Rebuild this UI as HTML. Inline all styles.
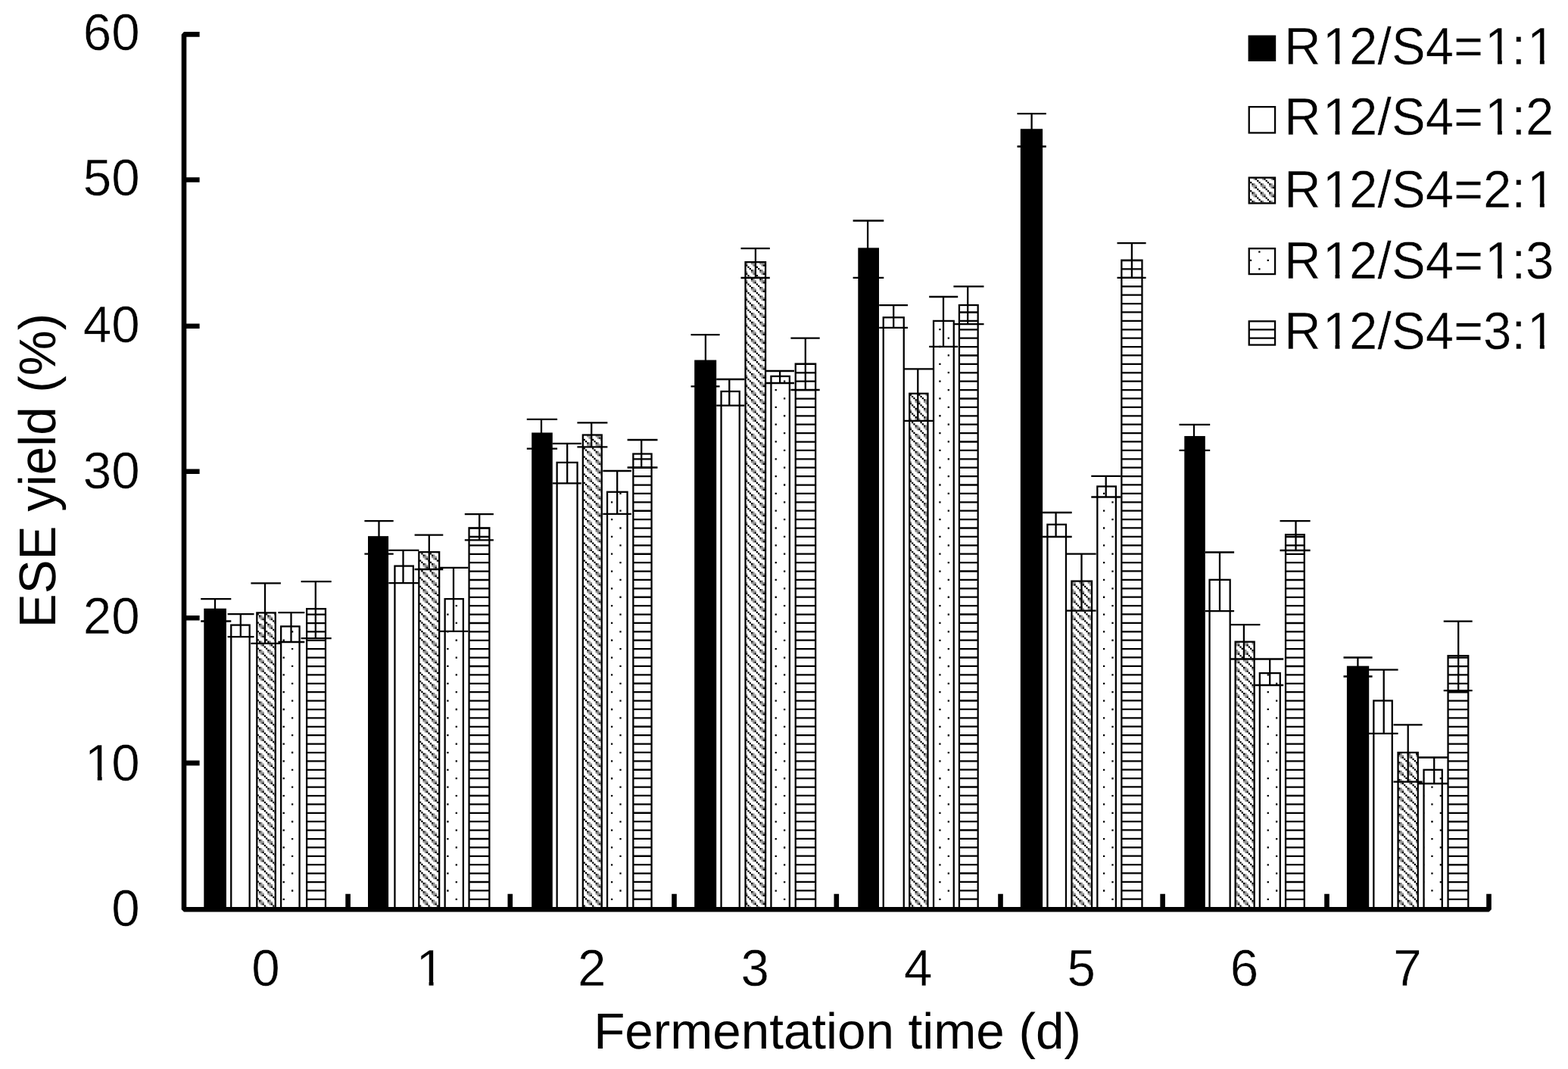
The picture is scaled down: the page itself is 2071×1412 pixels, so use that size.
<!DOCTYPE html>
<html lang="en"><head><meta charset="utf-8"><title>ESE yield vs fermentation time</title>
<style>
html,body{margin:0;padding:0;background:#fff;}
body{width:2071px;height:1412px;overflow:hidden;}
svg{display:block;}
text{font-family:"Liberation Sans",sans-serif;font-size:67px;fill:#000;font-kerning:none;text-rendering:geometricPrecision;}
text.t{stroke:#fff;stroke-width:0.5px;stroke-linejoin:round;}
</style></head><body>
<svg width="2071" height="1412" viewBox="0 0 2071 1412">
<defs>
<clipPath id="c2">
<rect x="339.34" y="809.4" width="24.42" height="391.6"/>
<rect x="553.34" y="729.2" width="26.82" height="471.8"/>
<rect x="769.84" y="574.5" width="24.92" height="626.5"/>
<rect x="984.54" y="346.2" width="26.52" height="854.8"/>
<rect x="1201.24" y="519.8" width="24.22" height="681.2"/>
<rect x="1415.44" y="767.6" width="26.62" height="433.4"/>
<rect x="1631.64" y="847.7" width="25.02" height="353.3"/>
<rect x="1846.54" y="994" width="26.22" height="207"/>
<rect x="1649.74" y="234.64" width="34.32" height="33.82"/>
</clipPath>
<clipPath id="c3">
<rect x="371.14" y="827.4" width="24.42" height="373.6"/>
<rect x="587.64" y="791.1" width="24.22" height="409.9"/>
<rect x="802.04" y="649.8" width="26.52" height="551.2"/>
<rect x="1018.44" y="497" width="24.42" height="704"/>
<rect x="1233.04" y="423.9" width="26.72" height="777.1"/>
<rect x="1449.34" y="642.5" width="24.52" height="558.5"/>
<rect x="1663.84" y="889.1" width="26.92" height="311.9"/>
<rect x="1880.54" y="1016.8" width="24.22" height="184.2"/>
<rect x="1649.74" y="328.24" width="34.32" height="33.82"/>
</clipPath>
<clipPath id="c4">
<rect x="405.14" y="804.2" width="24.82" height="396.8"/>
<rect x="619.54" y="697.3" width="26.82" height="503.7"/>
<rect x="836.34" y="599.5" width="24.22" height="601.5"/>
<rect x="1050.74" y="480.6" width="26.42" height="720.4"/>
<rect x="1266.94" y="403" width="24.72" height="798"/>
<rect x="1481.34" y="343.7" width="27.12" height="857.3"/>
<rect x="1698.04" y="706.2" width="24.72" height="494.8"/>
<rect x="1912.54" y="866.2" width="26.72" height="334.8"/>
<rect x="1649.74" y="424.34" width="34.32" height="31.22"/>
</clipPath>
</defs>
<rect width="2071" height="1412" fill="#fff"/>
<g stroke="#000" stroke-width="2.28">
<rect x="270.44" y="804.9" width="27.32" height="396.1" fill="#000"/>
<rect x="487.14" y="709.3" width="24.82" height="491.7" fill="#000"/>
<rect x="703.34" y="572.6" width="25.32" height="628.4" fill="#000"/>
<rect x="918.34" y="476.7" width="26.72" height="724.3" fill="#000"/>
<rect x="1134.44" y="328.5" width="25.42" height="872.5" fill="#000"/>
<rect x="1348.94" y="171.4" width="27.02" height="1029.6" fill="#000"/>
<rect x="1565.44" y="577.1" width="25.22" height="623.9" fill="#000"/>
<rect x="1780.04" y="880.8" width="27.02" height="320.2" fill="#000"/>
<rect x="1649.74" y="47.74" width="34.32" height="32.12" fill="#000"/>
<rect x="305.24" y="825.6" width="24.42" height="375.4" fill="#fff"/>
<rect x="521.44" y="747.6" width="24.42" height="453.4" fill="#fff"/>
<rect x="735.64" y="610.9" width="26.92" height="590.1" fill="#fff"/>
<rect x="952.54" y="517" width="24.22" height="684" fill="#fff"/>
<rect x="1166.74" y="419.3" width="27.02" height="781.7" fill="#fff"/>
<rect x="1383.44" y="692.8" width="24.52" height="508.2" fill="#fff"/>
<rect x="1597.54" y="765.8" width="27.12" height="435.2" fill="#fff"/>
<rect x="1814.34" y="925.5" width="24.42" height="275.5" fill="#fff"/>
<rect x="1649.74" y="141.14" width="34.32" height="34.32" fill="#fff"/>
</g>
<g clip-path="url(#c2)" fill="none">
<path d="M345.29 789.62V1202M356.7 789.62V1202M561.97 709.79V1202M573.37 709.79V1202M778.64 561.54V1202M790.05 561.54V1202M983.92 333.46V1202M995.32 333.46V1202M1006.72 333.46V1202M1200.59 504.52V1202M1212 504.52V1202M1223.4 504.52V1202M1417.27 755.41V1202M1428.67 755.41V1202M1440.08 755.41V1202M1633.94 835.24V1202M1645.35 835.24V1202M1656.75 835.24V1202M1850.62 972.09V1202M1862.02 972.09V1202M1873.43 972.09V1202M1656.75 219.42V269.46M1668.16 219.42V269.46M1679.56 219.42V269.46" stroke="#8a8a8a" stroke-width="2.28" stroke-dasharray="6.84 4.56"/>
<path d="M343.01 791.9V1202M354.41 791.9V1202M365.82 791.9V1202M559.69 712.07V1202M571.09 712.07V1202M776.36 552.42V1202M787.77 552.42V1202M993.04 324.34V1202M1004.44 324.34V1202M1209.71 506.8V1202M1221.12 506.8V1202M1414.99 746.29V1202M1426.39 746.29V1202M1437.79 746.29V1202M1631.66 826.11V1202M1643.07 826.11V1202M1654.47 826.11V1202M1848.34 974.37V1202M1859.74 974.37V1202M1871.15 974.37V1202M1654.47 221.7V269.46M1665.87 221.7V269.46M1677.28 221.7V269.46M347.57 791.9V1202M358.98 791.9V1202M552.84 712.07V1202M564.25 712.07V1202M575.65 712.07V1202M769.52 552.42V1202M780.92 552.42V1202M792.33 552.42V1202M986.2 324.34V1202M997.6 324.34V1202M1009 324.34V1202M1202.87 506.8V1202M1214.28 506.8V1202M1225.68 506.8V1202M1419.55 746.29V1202M1430.95 746.29V1202M1442.36 746.29V1202M1636.22 826.11V1202M1647.63 826.11V1202M1852.9 974.37V1202M1864.3 974.37V1202M1647.63 221.7V269.46M1659.03 221.7V269.46M1670.44 221.7V269.46M1681.84 221.7V269.46" stroke="#8a8a8a" stroke-width="2.28" stroke-dasharray="2.28 9.12"/>
<path d="M347.57 794.18V1202M358.98 794.18V1202M552.84 714.36V1202M564.25 714.36V1202M575.65 714.36V1202M769.52 554.7V1202M780.92 554.7V1202M792.33 554.7V1202M986.2 326.62V1202M997.6 326.62V1202M1009 326.62V1202M1202.87 497.68V1202M1214.28 497.68V1202M1225.68 497.68V1202M1419.55 748.57V1202M1430.95 748.57V1202M1442.36 748.57V1202M1636.22 828.4V1202M1647.63 828.4V1202M1852.9 976.65V1202M1864.3 976.65V1202M1647.63 212.58V269.46M1659.03 212.58V269.46M1670.44 212.58V269.46M1681.84 212.58V269.46M338.45 796.46V1202M349.85 796.46V1202M361.26 796.46V1202M555.12 716.64V1202M566.53 716.64V1202M577.93 716.64V1202M771.8 556.98V1202M783.2 556.98V1202M794.61 556.98V1202M988.48 328.9V1202M999.88 328.9V1202M1011.28 328.9V1202M1205.15 499.96V1202M1216.56 499.96V1202M1421.83 750.85V1202M1433.23 750.85V1202M1638.5 830.68V1202M1649.91 830.68V1202M1855.18 978.93V1202M1866.58 978.93V1202M1649.91 214.86V269.46M1661.31 214.86V269.46M1672.72 214.86V269.46M1684.12 214.86V269.46M340.73 787.34V1202M352.13 787.34V1202M363.54 787.34V1202M557.41 707.51V1202M568.81 707.51V1202M580.21 707.51V1202M774.08 559.26V1202M785.49 559.26V1202M796.89 559.26V1202M990.76 331.18V1202M1002.16 331.18V1202M1207.43 502.24V1202M1218.84 502.24V1202M1424.11 753.13V1202M1435.51 753.13V1202M1629.38 832.96V1202M1640.79 832.96V1202M1652.19 832.96V1202M1846.06 981.21V1202M1857.46 981.21V1202M1868.87 981.21V1202M1652.19 217.14V269.46M1663.59 217.14V269.46M1675 217.14V269.46M343.01 789.62V1202M354.41 789.62V1202M365.82 789.62V1202M559.69 709.79V1202M571.09 709.79V1202M776.36 561.54V1202M787.77 561.54V1202M993.04 333.46V1202M1004.44 333.46V1202M1209.71 504.52V1202M1221.12 504.52V1202M1414.99 755.41V1202M1426.39 755.41V1202M1437.79 755.41V1202M1631.66 835.24V1202M1643.07 835.24V1202M1654.47 835.24V1202M1848.34 972.09V1202M1859.74 972.09V1202M1871.15 972.09V1202M1654.47 219.42V269.46M1665.87 219.42V269.46M1677.28 219.42V269.46" stroke="#000" stroke-width="2.28" stroke-dasharray="2.28 9.12"/>
</g>
<g clip-path="url(#c3)" fill="none">
<path d="M386.12 787.58V1202M591.4 764.78V1202M819.48 605.12V1202M1024.75 468.27V1202M1252.83 399.85V1202M1458.1 605.12V1202M1663.37 856.01V1202M1686.18 856.01V1202M1891.45 992.86V1202M1663.37 285.81V363.06M1686.18 285.81V363.06M374.72 798.99V1202M397.53 798.99V1202M602.8 753.37V1202M808.07 616.52V1202M1036.15 456.87V1202M1241.42 388.44V1202M1469.5 616.52V1202M1674.78 844.6V1202M1880.05 981.45V1202M1902.86 981.45V1202M1651.97 297.21V363.06M1674.78 297.21V363.06" stroke="#000" stroke-width="2.28" stroke-dasharray="2.28 20.53"/>
</g>
<g clip-path="url(#c4)" fill="none" stroke="#000">
<path d="M417.55 787.69V1202" stroke-width="24.82" stroke-dasharray="2.28 9.12"/>
<path d="M632.95 685.05V1202" stroke-width="26.82" stroke-dasharray="2.28 9.12"/>
<path d="M848.45 582.42V1202" stroke-width="24.22" stroke-dasharray="2.28 9.12"/>
<path d="M1063.95 468.38V1202" stroke-width="26.42" stroke-dasharray="2.28 9.12"/>
<path d="M1279.3 388.55V1202" stroke-width="24.72" stroke-dasharray="2.28 9.12"/>
<path d="M1494.9 331.53V1202" stroke-width="27.12" stroke-dasharray="2.28 9.12"/>
<path d="M1710.4 685.05V1202" stroke-width="24.72" stroke-dasharray="2.28 9.12"/>
<path d="M1925.9 844.71V1202" stroke-width="26.72" stroke-dasharray="2.28 9.12"/>
<path d="M1666.9 411.36V456.56" stroke-width="34.32" stroke-dasharray="2.28 9.12"/>
</g>
<g stroke="#000" stroke-width="2.28" fill="none">
<rect x="339.34" y="809.4" width="24.42" height="391.6"/>
<rect x="553.34" y="729.2" width="26.82" height="471.8"/>
<rect x="769.84" y="574.5" width="24.92" height="626.5"/>
<rect x="984.54" y="346.2" width="26.52" height="854.8"/>
<rect x="1201.24" y="519.8" width="24.22" height="681.2"/>
<rect x="1415.44" y="767.6" width="26.62" height="433.4"/>
<rect x="1631.64" y="847.7" width="25.02" height="353.3"/>
<rect x="1846.54" y="994" width="26.22" height="207"/>
<rect x="1649.74" y="234.64" width="34.32" height="33.82"/>
<rect x="371.14" y="827.4" width="24.42" height="373.6"/>
<rect x="587.64" y="791.1" width="24.22" height="409.9"/>
<rect x="802.04" y="649.8" width="26.52" height="551.2"/>
<rect x="1018.44" y="497" width="24.42" height="704"/>
<rect x="1233.04" y="423.9" width="26.72" height="777.1"/>
<rect x="1449.34" y="642.5" width="24.52" height="558.5"/>
<rect x="1663.84" y="889.1" width="26.92" height="311.9"/>
<rect x="1880.54" y="1016.8" width="24.22" height="184.2"/>
<rect x="1649.74" y="328.24" width="34.32" height="33.82"/>
<rect x="405.14" y="804.2" width="24.82" height="396.8"/>
<rect x="619.54" y="697.3" width="26.82" height="503.7"/>
<rect x="836.34" y="599.5" width="24.22" height="601.5"/>
<rect x="1050.74" y="480.6" width="26.42" height="720.4"/>
<rect x="1266.94" y="403" width="24.72" height="798"/>
<rect x="1481.34" y="343.7" width="27.12" height="857.3"/>
<rect x="1698.04" y="706.2" width="24.72" height="494.8"/>
<rect x="1912.54" y="866.2" width="26.72" height="334.8"/>
<rect x="1649.74" y="424.34" width="34.32" height="31.22"/>
</g>
<g stroke="#000" stroke-width="2.28" fill="none">
<path d="M265.2 791.1H305.3M265.2 820.5H305.3M284 791.1V820.5M300.6 811.2H335.5M300.6 841.1H335.5M317.8 811.2V841.1M331.4 770.4H370.9M331.4 849.8H370.9M350 770.4V849.8M367.4 809.2H402.3M367.4 848H402.3M384.5 809.2V848M397.6 768.1H437.7M397.6 843.2H437.7M416.8 768.1V843.2"/>
<path d="M481.4 688.2H519.7M481.4 731.6H519.7M500.5 688.2V731.6M513.3 726.9H553.4M513.3 770.1H553.4M532.5 726.9V770.1M547.6 706.6H585.3M547.6 752H585.3M566.8 706.6V752M580.1 749.9H618.4M580.1 833.9H618.4M599 749.9V833.9M613.8 679.1H651.9M613.8 713.4H651.9M633.2 679.1V713.4"/>
<path d="M695.8 553.9H736.1M695.8 592.6H736.1M715 553.9V592.6M730 585.8H767.8M730 638.3H767.8M749.2 585.8V638.3M762.4 558.4H802.4M762.4 590.3H802.4M781.2 558.4V590.3M796.3 622H834M796.3 678.8H834M815.2 622V678.8M828.6 581H868.5M828.6 617.5H868.5M847.2 581V617.5"/>
<path d="M912.5 442.1H950.6M912.5 510.4H950.6M931.9 442.1V510.4M946.2 501H983.4M946.2 535.6H983.4M963.3 501V535.6M978.5 328.1H1016.8M978.5 367H1016.8M997.9 328.1V367M1011.3 490H1049M1011.3 506H1049M1030.1 490V506M1044.4 446.7H1082.7M1044.4 515H1082.7M1063.8 446.7V515"/>
<path d="M1126.6 291.5H1167.3M1126.6 366.8H1167.3M1146.1 291.5V366.8M1161.2 403.2H1199M1161.2 432.9H1199M1180.2 403.2V432.9M1193.7 487.3H1232.7M1193.7 555.8H1232.7M1212.3 487.3V555.8M1227.2 392H1265.2M1227.2 457.9H1265.2M1246 392V457.9M1259.4 378.3H1299.5M1259.4 428.2H1299.5M1278.2 378.3V428.2"/>
<path d="M1343.5 150.2H1381.8M1343.5 193.5H1381.8M1362.6 150.2V193.5M1377.1 677H1415.7M1377.1 709H1415.7M1394.6 677V709M1408.7 731.6H1447.7M1408.7 806.6H1447.7M1428.5 731.6V806.6M1441.3 628.8H1480.2M1441.3 656.5H1480.2M1460.7 628.8V656.5M1475.5 321.1H1513.6M1475.5 366.8H1513.6M1494.9 321.1V366.8"/>
<path d="M1557.5 560.8H1598.2M1557.5 594.8H1598.2M1577 560.8V594.8M1591.8 729.5H1630.1M1591.8 807.1H1630.1M1611 729.5V807.1M1624.3 825.1H1664.4M1624.3 870.5H1664.4M1642.9 825.1V870.5M1657.4 870.5H1695.2M1657.4 905H1695.2M1677.2 870.5V905M1690.5 688.2H1730.6M1690.5 727H1730.6M1711.5 688.2V727"/>
<path d="M1774.5 868.5H1812.6M1774.5 893.5H1812.6M1793.4 868.5V893.5M1808 884.6H1846.6M1808 968.8H1846.6M1827.7 884.6V968.8M1840.5 957.4H1878.6M1840.5 1032.7H1878.6M1859.7 957.4V1032.7M1873.6 1000.5H1911.9M1873.6 1035H1911.9M1894.2 1000.5V1035M1906.7 820.7H1944.7M1906.7 912.1H1944.7M1926.2 820.7V912.1"/>
</g>
<g stroke="#000" stroke-width="6.6" fill="none" stroke-linejoin="bevel">
<path d="M263.6 45.4H243V1201.3H1966.5V1180.8"/>
<path d="M459.6 1201.3V1180.8M673.8 1201.3V1180.8M890.5 1201.3V1180.8M1104.8 1201.3V1180.8M1321.5 1201.3V1180.8M1535.65 1201.3V1180.8M1752.5 1201.3V1180.8M243 1007.9H263.6M243 816.2H263.6M243 622.8H263.6M243 430.8H263.6M243 237.5H263.6"/>
</g>
<text class="t" transform="translate(184.7 1222.5) scale(1.005 1.02)" text-anchor="end">0</text>
<text class="t" transform="translate(109.8 1030.92) scale(1.005 1.02)" text-anchor="start" dx="1.99 -1.99">10</text>
<text class="t" transform="translate(184.7 837.23) scale(1.005 1.02)" text-anchor="end">20</text>
<text class="t" transform="translate(184.7 645.3) scale(1.005 1.02)" text-anchor="end">30</text>
<text class="t" transform="translate(184.7 451.77) scale(1.005 1.02)" text-anchor="end">40</text>
<text class="t" transform="translate(184.7 258.08) scale(1.005 1.02)" text-anchor="end">50</text>
<text class="t" transform="translate(184.7 66.4) scale(1.005 1.02)" text-anchor="end">60</text>
<text class="t" transform="translate(350.92 1302.3) scale(1.005 1.02)" text-anchor="middle">0</text>
<text class="t" transform="translate(547.63 1302.3) scale(1.005 1.02)" text-anchor="start" dx="1.99">1</text>
<text class="t" transform="translate(781.79 1302.3) scale(1.005 1.02)" text-anchor="middle">2</text>
<text class="t" transform="translate(997.23 1302.3) scale(1.005 1.02)" text-anchor="middle">3</text>
<text class="t" transform="translate(1212.67 1302.3) scale(1.005 1.02)" text-anchor="middle">4</text>
<text class="t" transform="translate(1428.11 1302.3) scale(1.005 1.02)" text-anchor="middle">5</text>
<text class="t" transform="translate(1643.54 1302.3) scale(1.005 1.02)" text-anchor="middle">6</text>
<text class="t" transform="translate(1858.98 1302.3) scale(1.005 1.02)" text-anchor="middle">7</text>
<text transform="translate(1106 1385) scale(1.005 1)" text-anchor="middle">Fermentation time (d)</text>
<text transform="translate(73 621.6) rotate(-90) scale(1.005 1.02)" text-anchor="middle">ESE yield (%)</text>
<text class="t" transform="translate(1696.2 84.8) scale(1.001 1.04)" text-anchor="start" dx="0 2 -2 0 0 0 0 2 -2 2">R12/S4=1:1</text>
<text class="t" transform="translate(1696.2 178.3) scale(1.001 1.04)" text-anchor="start" dx="0 2 -2 0 0 0 0 2 -2 0">R12/S4=1:2</text>
<text class="t" transform="translate(1696.2 273.9) scale(1.001 1.04)" text-anchor="start" dx="0 2 -2 0 0 0 0 0 0 2">R12/S4=2:1</text>
<text class="t" transform="translate(1696.2 367.5) scale(1.001 1.04)" text-anchor="start" dx="0 2 -2 0 0 0 0 2 -2 0">R12/S4=1:3</text>
<text class="t" transform="translate(1696.2 461.4) scale(1.001 1.04)" text-anchor="start" dx="0 2 -2 0 0 0 0 0 0 2">R12/S4=3:1</text>
<rect x="116" y="1025" width="12.74" height="7" fill="#fff"/>
<rect x="134.69" y="1025" width="12.31" height="7" fill="#fff"/>
<rect x="554" y="1296" width="12.56" height="7" fill="#fff"/>
<rect x="572.52" y="1296" width="12.48" height="7" fill="#fff"/>
<rect x="1751" y="79" width="12.5" height="7" fill="#fff"/>
<rect x="1769.43" y="79" width="11.57" height="7" fill="#fff"/>
<rect x="1965" y="79" width="12.93" height="7" fill="#fff"/>
<rect x="1983.86" y="79" width="12.14" height="7" fill="#fff"/>
<rect x="2021" y="79" width="12.86" height="7" fill="#fff"/>
<rect x="2039.79" y="79" width="12.21" height="7" fill="#fff"/>
<rect x="1751" y="172" width="12.5" height="7" fill="#fff"/>
<rect x="1769.43" y="172" width="11.57" height="7" fill="#fff"/>
<rect x="1965" y="172" width="12.93" height="7" fill="#fff"/>
<rect x="1983.86" y="172" width="12.14" height="7" fill="#fff"/>
<rect x="1751" y="268" width="12.5" height="7" fill="#fff"/>
<rect x="1769.43" y="268" width="11.57" height="7" fill="#fff"/>
<rect x="2021" y="268" width="12.86" height="7" fill="#fff"/>
<rect x="2039.79" y="268" width="12.21" height="7" fill="#fff"/>
<rect x="1751" y="361" width="12.5" height="7" fill="#fff"/>
<rect x="1769.43" y="361" width="11.57" height="7" fill="#fff"/>
<rect x="1965" y="361" width="12.93" height="7" fill="#fff"/>
<rect x="1983.86" y="361" width="12.14" height="7" fill="#fff"/>
<rect x="1751" y="455" width="12.5" height="7" fill="#fff"/>
<rect x="1769.43" y="455" width="11.57" height="7" fill="#fff"/>
<rect x="2021" y="455" width="12.86" height="7" fill="#fff"/>
<rect x="2039.79" y="455" width="12.21" height="7" fill="#fff"/>
</svg>
</body></html>
